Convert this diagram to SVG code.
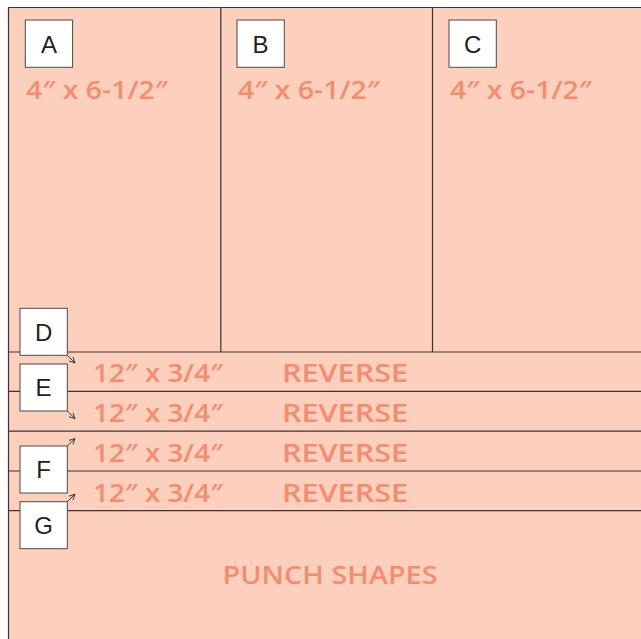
<svg xmlns="http://www.w3.org/2000/svg" width="641" height="639" viewBox="0 0 641 639">
<defs>
<style>
.sheet{fill:#FCD0BD;stroke:none}
.line{stroke:#3b3435;stroke-width:1.2;fill:none}
.box{fill:#ffffff;stroke:#4a4a4a;stroke-width:1}
.lbl{font-family:"Liberation Sans",Arial,sans-serif;font-size:24px;fill:#231F20;text-anchor:middle}
.dim{font-family:"Open Sans","Liberation Sans",Arial,sans-serif;font-size:25px;font-weight:600;fill:#F58C6E}
.arr{stroke:#333;stroke-width:1;fill:none}
</style>
<marker id="ah" viewBox="0 0 10 10" refX="9" refY="5" markerWidth="7" markerHeight="7" orient="auto" markerUnits="userSpaceOnUse">
<path d="M1,1 L9,5 L1,9" fill="none" stroke="#333" stroke-width="1.3"/>
</marker>
</defs>
<rect x="0" y="0" width="641" height="639" fill="#ffffff"/>
<g id="sheet">
<rect class="sheet" x="8.5" y="7.5" width="633" height="632"/>
<path class="line" d="M8.5,639 V7.5 H641"/>
<path class="line" d="M220.8,7.5 V352 M432.5,7.5 V352"/>
<path class="line" d="M8.5,352 H641 M8.5,391.3 H641 M8.5,431.2 H641 M8.5,471 H641 M8.5,510.6 H641"/>
</g>
<g id="connectors">
<line class="arr" x1="67.3" y1="355.3" x2="75" y2="363" marker-end="url(#ah)"/>
<line class="arr" x1="67.3" y1="411" x2="75" y2="418.7" marker-end="url(#ah)"/>
<line class="arr" x1="67.3" y1="446" x2="75" y2="438.5" marker-end="url(#ah)"/>
<line class="arr" x1="67.3" y1="501.7" x2="75" y2="494.2" marker-end="url(#ah)"/>
</g>
<g id="A">
<rect class="box" x="25.3" y="20" width="47.3" height="47.3"/>
<text class="lbl" x="49" y="52.5">A</text>
<text class="dim" x="26" y="99" textLength="142" lengthAdjust="spacingAndGlyphs">4″ x 6-1/2″</text>
</g>
<g id="B">
<rect class="box" x="237" y="20" width="47.3" height="47.3"/>
<text class="lbl" x="260.6" y="52.5">B</text>
<text class="dim" x="238" y="99" textLength="142" lengthAdjust="spacingAndGlyphs">4″ x 6-1/2″</text>
</g>
<g id="C">
<rect class="box" x="449" y="20" width="47.3" height="47.3"/>
<text class="lbl" x="472.6" y="52.5">C</text>
<text class="dim" x="450" y="99" textLength="142" lengthAdjust="spacingAndGlyphs">4″ x 6-1/2″</text>
</g>
<g id="strips">
<text class="dim" x="93" y="382" textLength="130" lengthAdjust="spacingAndGlyphs">12″ x 3/4″</text>
<text class="dim" x="282" y="382" textLength="126" lengthAdjust="spacingAndGlyphs">REVERSE</text>
<text class="dim" x="93" y="422" textLength="130" lengthAdjust="spacingAndGlyphs">12″ x 3/4″</text>
<text class="dim" x="282" y="422" textLength="126" lengthAdjust="spacingAndGlyphs">REVERSE</text>
<text class="dim" x="93" y="462" textLength="130" lengthAdjust="spacingAndGlyphs">12″ x 3/4″</text>
<text class="dim" x="282" y="462" textLength="126" lengthAdjust="spacingAndGlyphs">REVERSE</text>
<text class="dim" x="93" y="502" textLength="130" lengthAdjust="spacingAndGlyphs">12″ x 3/4″</text>
<text class="dim" x="282" y="502" textLength="126" lengthAdjust="spacingAndGlyphs">REVERSE</text>
</g>
<g id="D">
<rect class="box" x="20" y="308.3" width="47.3" height="47"/>
<text class="lbl" x="43.6" y="340.5">D</text>
</g>
<g id="E">
<rect class="box" x="20" y="364" width="47.3" height="47"/>
<text class="lbl" x="43.6" y="396">E</text>
</g>
<g id="F">
<rect class="box" x="20" y="446" width="47.3" height="47"/>
<text class="lbl" x="43.6" y="478">F</text>
</g>
<g id="G">
<rect class="box" x="20" y="501.7" width="47.3" height="47"/>
<text class="lbl" x="43.6" y="533.7">G</text>
</g>
<g id="punch">
<text class="dim" x="222.5" y="584" textLength="215" lengthAdjust="spacingAndGlyphs">PUNCH SHAPES</text>
</g>
</svg>
